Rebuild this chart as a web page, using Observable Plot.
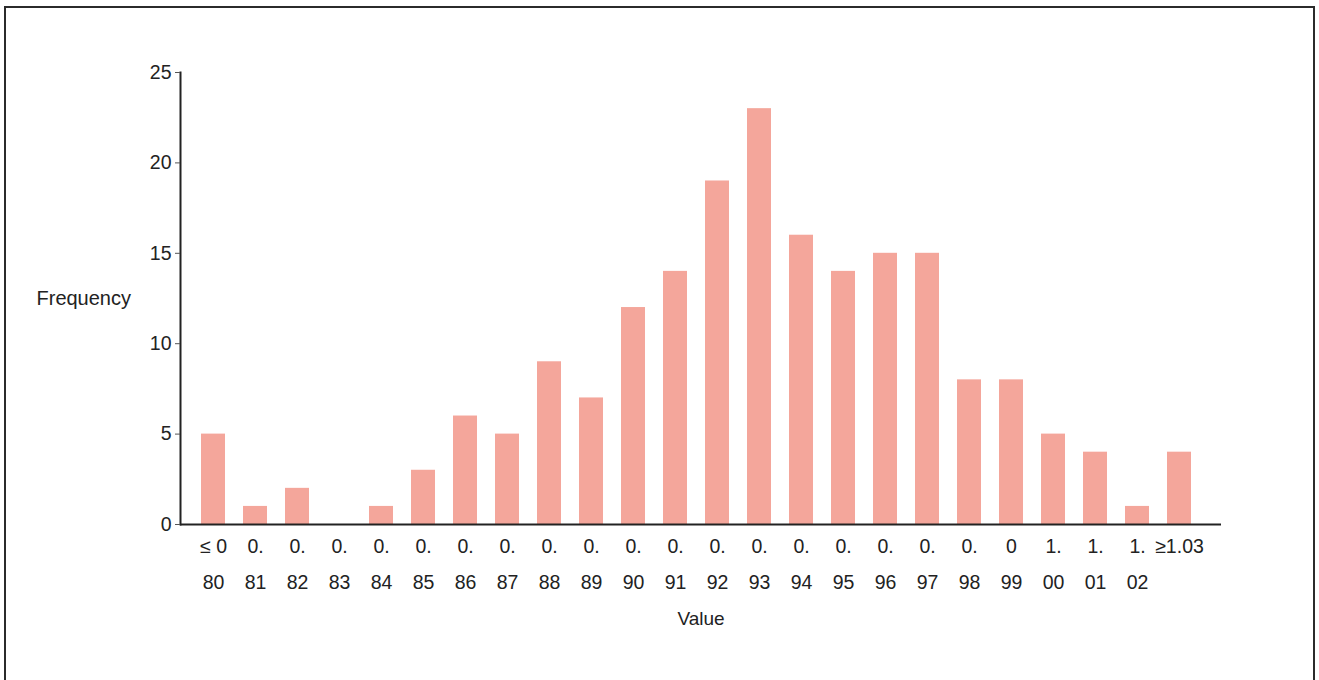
<!DOCTYPE html>
<html>
<head>
<meta charset="utf-8">
<script src="https://cdn.jsdelivr.net/npm/d3@7"></script>
<script src="https://cdn.jsdelivr.net/npm/@observablehq/plot@0.6"></script>
<style>
  html, body { margin: 0; padding: 0; background: #ffffff; }
  #wrap { position: relative; width: 1319px; height: 680px; overflow: hidden; }
  #border { position: absolute; left: 4px; top: 6px; width: 1311px; height: 680px;
            border: 2px solid #2b2b2b; box-sizing: border-box; pointer-events: none; }
  #chart { position: absolute; left: 0; top: 0; }
</style>
</head>
<body>
<div id="wrap"><div id="chart"></div><div id="border"></div></div>
<script>
// ---- data ----
const categories = ["≤0.80","0.81","0.82","0.83","0.84","0.85","0.86","0.87","0.88","0.89","0.90","0.91",
                    "0.92","0.93","0.94","0.95","0.96","0.97","0.98","0.99","1.00","1.01","1.02","≥1.03"];
const frequencies = [5, 1, 2, 0, 1, 3, 6, 5, 9, 7, 12, 14, 19, 23, 16, 14, 15, 15, 8, 8, 5, 4, 1, 4];
const labelLine1 = ["≤ 0","0.","0.","0.","0.","0.","0.","0.","0.","0.","0.","0.",
                    "0.","0.","0.","0.","0.","0.","0.","0","1.","1.","1.","≥1.03"];
const labelLine2 = ["80","81","82","83","84","85","86","87","88","89","90","91",
                    "92","93","94","95","96","97","98","99","00","01","02",""];
const yTicks = [0, 5, 10, 15, 20, 25];
const yTitle = "Frequency";
const xTitle = "Value";

// ---- tables built from the arrays ----
const data = categories.map((c, i) => ({category: c, frequency: frequencies[i]}));
const line1Of = new Map(categories.map((c, i) => [c, labelLine1[i]]));
const line2Of = new Map(categories.map((c, i) => [c, labelLine2[i]]));

const ink = "#222222";
const chart = Plot.plot({
  width: 1319,
  height: 680,
  marginLeft: 180,
  marginRight: 98,
  marginTop: 72,
  marginBottom: 156,
  style: {fontFamily: "'Liberation Sans', Arial, Helvetica, sans-serif", fontSize: "19px", color: ink, background: "transparent"},
  x: {type: "band", domain: categories, paddingInner: 0.44, paddingOuter: 0.35, align: 0.4, axis: null, label: null},
  y: {domain: [0, 25], axis: null, label: null},
  marks: [
    Plot.barY(data, {x: "category", y: "frequency", fill: "#f4a69b"}),
    Plot.ruleY([0], {stroke: ink, strokeWidth: 2}),
    Plot.frame({anchor: "left", stroke: ink, strokeWidth: 2}),
    Plot.axisY({ticks: yTicks, tickSize: 5, tickPadding: 4, fontSize: 19.5, label: null, stroke: "#555"}),
    Plot.axisX({tickSize: 0, tickPadding: 15, fontSize: 19.5, label: null, tickFormat: c => line1Of.get(c)}),
    Plot.axisX({tickSize: 0, tickPadding: 51, fontSize: 19.5, label: null, tickFormat: c => line2Of.get(c)}),
    Plot.text([yTitle], {frameAnchor: "left", dx: -144, textAnchor: "start", fontSize: 20, fill: ink}),
    Plot.text([xTitle], {frameAnchor: "bottom", dy: 100, fontSize: 19, fill: ink})
  ]
});
document.getElementById("chart").appendChild(chart);
</script>
</body>
</html>
